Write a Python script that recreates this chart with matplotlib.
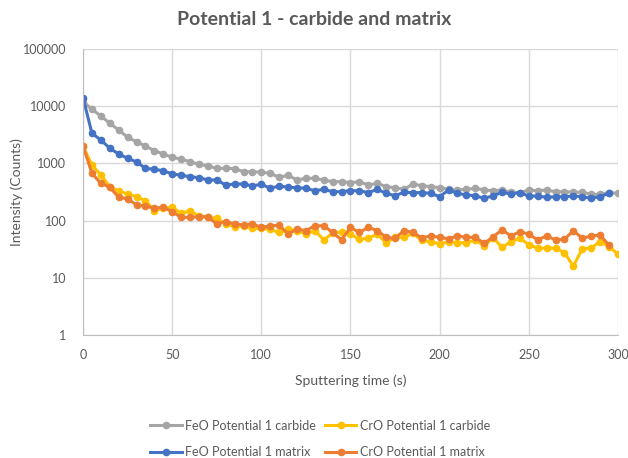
import matplotlib
matplotlib.use("Agg")
import matplotlib.pyplot as plt
from matplotlib.ticker import FixedLocator, FixedFormatter
import numpy as np

plt.rcParams['font.family'] = ['Lato', 'DejaVu Sans']

# sputtering time (s), one point every 5 s
time_s = list(range(0, 305, 5))

feo_carbide = [12000, 8830, 6750, 5030, 3840, 2860, 2390, 2010, 1670, 1460,
               1280, 1190, 1070, 965, 900, 820, 820, 812, 716, 716,
               700, 671, 571, 620, 513, 548, 548, 513, 479, 479,
               460, 479, 419, 449, 392, 376, 352, 436, 407, 392,
               376, 352, 343, 352, 367, 343, 333, 343, 313, 308,
               343, 333, 343, 320, 320, 313, 313, 288, 288, 308, 300]

cro_carbide = [2010, 937, 627, 392, 329, 292, 262, 223, 149, 164,
               171, 134, 149, 120, 114, 110, 87, 78, 81, 73,
               73, 70, 62, 70, 67, 58, 67, 46, 60, 64,
               58, 47, 49, 58, 41, 51, 51, 60, 45, 43,
               39, 43, 41, 41, 46, 36, 50, 34, 43, 49,
               38, 33, 33, 33, 27.5, 16, 32, 33, 43, 35, 26]

# matrix series stop at 295 s
feo_matrix = [14100, 3360, 2560, 1840, 1460, 1230, 1060, 820, 789, 745,
              653, 620, 586, 563, 513, 513, 419, 436, 436, 403,
              432, 367, 403, 382, 376, 367, 333, 352, 320, 320,
              333, 333, 308, 352, 300, 272, 313, 308, 308, 300,
              262, 343, 300, 281, 272, 245, 272, 313, 292, 308,
              269, 269, 255, 262, 262, 269, 262, 245, 262, 300]

cro_matrix = [2010, 671, 449, 382, 255, 242, 187, 180, 164, 171,
              143, 114, 114, 117, 117, 87, 96, 87, 84, 88,
              76, 81, 83, 58, 71, 67, 81, 81, 62, 46,
              76, 62, 76, 67, 51, 49, 67, 62, 50, 54,
              51, 48, 54, 51, 51, 40, 52, 69, 54, 64,
              58, 46, 54, 46, 47, 67, 49, 54, 56, 37]

y_ticks = [1, 10, 100, 1000, 10000, 100000]
x_ticks = [0, 50, 100, 150, 200, 250, 300]

fig = plt.figure(figsize=(6.28, 4.58), dpi=100)
ax = fig.add_axes([0.1322, 0.2686, 0.8518, 0.6244])

style = dict(marker='o', markersize=4.5, linewidth=2.2)
l1, = ax.plot(time_s, feo_carbide, color='#A5A5A5', label='FeO Potential 1 carbide', **style)
l2, = ax.plot(time_s, cro_carbide, color='#FFC000', label='CrO Potential 1 carbide', **style)
l3, = ax.plot(time_s[:len(feo_matrix)], feo_matrix, color='#4472C4', label='FeO Potential 1 matrix', **style)
l4, = ax.plot(time_s[:len(cro_matrix)], cro_matrix, color='#ED7D31', label='CrO Potential 1 matrix', **style)

ax.set_yscale('log')
ax.set_ylim(1, 100000)
ax.set_xlim(0, 300)
ax.yaxis.set_major_locator(FixedLocator(y_ticks))
ax.yaxis.set_major_formatter(FixedFormatter([str(v) for v in y_ticks]))
ax.yaxis.set_minor_locator(FixedLocator([]))
ax.set_xticks(x_ticks)

ax.grid(True, color='#D9D9D9', linewidth=1)
ax.set_axisbelow(True)
for s in ['top', 'right']:
    ax.spines[s].set_visible(False)
for s in ['left', 'bottom']:
    ax.spines[s].set_color('#BFBFBF')
ax.tick_params(length=0, labelsize=9, colors='#595959')
ax.tick_params(axis='y', pad=12)
ax.tick_params(axis='x', pad=10)

ax.set_xlabel('Sputtering time (s)', fontsize=10, color='#595959')
ax.set_ylabel('Intensity (Counts)', fontsize=10, color='#595959')
ax.yaxis.set_label_coords(-0.123, 0.5)
ax.xaxis.set_label_coords(0.5, -0.161)
for lab in (ax.xaxis.label, ax.yaxis.label):
    lab.set_verticalalignment('center')
fig.suptitle('Potential 1 - carbide and matrix', fontsize=14, fontweight='bold',
             color='#595959', y=0.975)

# column-wise fill: carbide entries on the first row, matrix on the second
fig.legend(handles=[l1, l3, l2, l4], loc='lower center', ncol=2, frameon=False,
           fontsize=9, labelcolor='#595959', bbox_to_anchor=(0.51, -0.025),
           columnspacing=0.7, handlelength=2.5, handletextpad=0.3, labelspacing=1.15)

fig.savefig('out.png', dpi=100)
